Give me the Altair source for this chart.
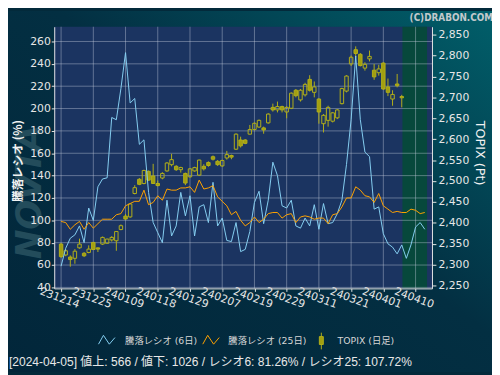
import altair as alt
import pandas as pd

# ---------------- data ----------------
DATE_LABELS = ["231214", "231225", "240109", "240118", "240129", "240207",
               "240219", "240229", "240311", "240321", "240401", "240410"]
TICK_IDX = [0, 7, 14, 21, 28, 35, 42, 49, 56, 63, 70, 77]

OPEN = [2349, 2323, 2318, 2315, 2340, 2327, 2329, 2353, 2340, 2349,
        2351, 2359, 2357, 2384, 2416, 2414, 2470, 2504, 2494, 2523,
        2512, 2494, 2507, 2524, 2539, 2535, 2527, 2518, 2510, 2524,
        2514, 2535, 2544, 2558, 2547, 2536, 2555, 2561, 2576, 2598,
        2598, 2612, 2623, 2629, 2627, 2639, 2676, 2670, 2678, 2665,
        2674, 2717, 2694, 2706, 2743, 2712, 2696, 2637, 2645, 2643,
        2651, 2685, 2715, 2780, 2814, 2803, 2770, 2792, 2765, 2759,
        2782, 2725, 2696, 2732, 2702]
HIGH = [2352, 2337, 2322, 2337, 2362, 2330, 2346, 2354, 2341, 2367,
        2362, 2368, 2380, 2396, 2421, 2446, 2490, 2507, 2527, 2525,
        2541, 2501, 2521, 2545, 2565, 2538, 2534, 2520, 2531, 2534,
        2551, 2540, 2547, 2561, 2550, 2551, 2572, 2563, 2614, 2606,
        2600, 2634, 2640, 2647, 2630, 2662, 2685, 2690, 2680, 2679,
        2712, 2720, 2720, 2735, 2753, 2738, 2698, 2660, 2680, 2665,
        2672, 2723, 2753, 2800, 2822, 2806, 2784, 2812, 2780, 2778,
        2784, 2745, 2717, 2756, 2706]
LOW = [2316, 2320, 2295, 2302, 2338, 2318, 2327, 2335, 2330, 2347,
       2350, 2355, 2333, 2382, 2407, 2412, 2468, 2490, 2492, 2500,
       2493, 2487, 2504, 2522, 2535, 2524, 2520, 2490, 2508, 2522,
       2512, 2525, 2534, 2549, 2536, 2534, 2551, 2552, 2574, 2580,
       2588, 2611, 2621, 2627, 2613, 2637, 2666, 2664, 2664, 2650,
       2672, 2700, 2690, 2702, 2714, 2700, 2637, 2616, 2630, 2640,
       2648, 2683, 2712, 2775, 2796, 2774, 2764, 2786, 2742, 2752,
       2718, 2703, 2680, 2724, 2676]
CLOSE = [2319, 2333, 2312, 2332, 2349, 2321, 2337, 2336, 2337, 2365,
         2361, 2365, 2379, 2393, 2409, 2445, 2484, 2492, 2525, 2502,
         2494, 2489, 2518, 2543, 2551, 2527, 2532, 2495, 2529, 2532,
         2550, 2529, 2537, 2552, 2539, 2549, 2563, 2557, 2612, 2584,
         2590, 2623, 2638, 2645, 2622, 2660, 2670, 2678, 2670, 2676,
         2710, 2704, 2717, 2731, 2717, 2725, 2665, 2657, 2676, 2663,
         2670, 2721, 2751, 2796, 2805, 2776, 2779, 2798, 2749, 2768,
         2720, 2712, 2707, 2728, 2699]

RATIO6 = [59, 75, 84, 87, 95, 80, 111, 100, 130, 137,
          138, 192, 190, 218, 250, 205, 209, 168, 172, 125,
          98, 89, 80, 118, 86, 95, 125, 104, 122, 86,
          112, 114, 98, 134, 95, 102, 82, 81, 98, 72,
          74, 90, 116, 126, 97, 118, 152, 140, 113, 111,
          118, 95, 93, 102, 95, 114, 92, 115, 97, 98,
          106, 118, 150, 190, 247, 190, 161, 157, 110, 112,
          88, 79, 76, 70, 78, 66, 78, 94, 98, 92]
RATIO25 = [99, 98, 92, 96, 99, 92, 98, 93, 97, 101,
           101, 101, 105, 106, 113, 115, 117, 117, 127, 114,
           116, 122, 118, 128, 127, 127, 129, 129, 130, 125,
           136, 128, 129, 131, 121, 117, 113, 105, 108, 100,
           95, 98, 103, 98, 101, 106, 107, 107, 102, 105,
           106, 98, 103, 104, 103, 101, 102, 102, 97, 105,
           106, 112, 120, 120, 130, 127, 122, 121, 116, 124,
           113, 110, 107, 108, 107, 107, 110, 109, 106, 107]

LEFT_TICKS = [40, 60, 80, 100, 120, 140, 160, 180, 200, 220, 240, 260]
RIGHT_TICKS = [2250, 2300, 2350, 2400, 2450, 2500, 2550, 2600, 2650,
               2700, 2750, 2800, 2850]
FUTURE_START = 74.15
X_DOMAIN = [-0.42, 79.5]
LEFT_DOMAIN = [39.1, 273.2]
RIGHT_DOMAIN = [2243, 2869]

LEGEND_LABELS = ["騰落レシオ (6日)", "騰落レシオ (25日)", "TOPIX (日足)"]
STATUS = "[2024-04-05]  値上: 566 / 値下: 1026 / レシオ6: 81.26% / レシオ25: 107.72%"
COPYRIGHT = "(C)DRABON.COM"
LEFT_TITLE = "騰落レシオ (%)"
RIGHT_TITLE = "TOPIX (Pt)"
WATERMARK = "NOVTA"

# ---------------- styling ----------------
W, H = 384, 266
FONT = "DejaVu Sans"
CJK = "Noto Sans CJK JP"
PLOT_BG = "#1b3461"
FUTURE_BG = "#07483c"
GRID = "#c8d0e0"
OLIVE_FILL = "#a29f10"
OLIVE_LINE = "#b3af18"
BLUE = "#86cff2"
ORANGE = "#ffa200"
LABEL = "#e6e6e6"

one = pd.DataFrame({"a": [0]})

candles = pd.DataFrame({"idx": list(range(len(OPEN))), "o": OPEN, "h": HIGH,
                        "l": LOW, "c": CLOSE})
candles["top"] = candles[["o", "c"]].max(axis=1)
candles["bot"] = candles[["o", "c"]].min(axis=1)
up = candles[candles["c"] >= candles["o"]]
dn = candles[candles["c"] < candles["o"]]

lines = pd.DataFrame({"idx": list(range(len(RATIO6))), "r6": RATIO6, "r25": RATIO25})

label_expr = "[" + ",".join("'%s'" % d for d in DATE_LABELS) + "][round(datum.value/7)]"

x_axis = alt.Axis(values=TICK_IDX, labelExpr=label_expr, grid=False, title=None,
                  labelAngle=20, labelAlign="center", labelBaseline="top",
                  labelFont=FONT, labelFontSize=11, labelColor=LABEL,
                  labelPadding=1, labelOverlap=False, labelBound=False,
                  labelFlush=False, tickSize=3, tickColor=LABEL,
                  domainColor=LABEL, zindex=1)
x_scale = alt.Scale(domain=X_DOMAIN, nice=False, zero=False)


def X(field):
    return alt.X(field, type="quantitative", scale=x_scale, axis=x_axis)


left_scale = alt.Scale(domain=LEFT_DOMAIN, nice=False, zero=False)
right_scale = alt.Scale(domain=RIGHT_DOMAIN, nice=False, zero=False)

left_axis = alt.Axis(orient="left", values=LEFT_TICKS, grid=False,
                     labelFont=FONT, labelFontSize=11, labelColor=LABEL,
                     labelPadding=1, tickSize=3, tickColor=LABEL,
                     domainColor=LABEL, labelOverlap=False,
                     title=LEFT_TITLE, titleFont=CJK, titleFontSize=12,
                     titleFontWeight="bold", titleColor="#f2f2f2",
                     titleAngle=270, titleX=-37, titleY=136,
                     titleAlign="center", titleBaseline="middle", zindex=1)
right_axis = alt.Axis(orient="right", values=RIGHT_TICKS, format=",.0f", grid=False,
                      labelFont=FONT, labelFontSize=11, labelColor=LABEL,
                      labelPadding=2, tickSize=4, tickColor=LABEL,
                      domainColor=LABEL, labelOverlap=False,
                      title=RIGHT_TITLE, titleFont=FONT, titleFontSize=13,
                      titleFontWeight="normal", titleColor="#f2f2f2",
                      titleAngle=90, titleX=48, titleY=128,
                      titleAlign="center", titleBaseline="middle", zindex=1)


def YL(field, axis=None):
    return alt.Y(field, type="quantitative", scale=left_scale, axis=axis)


def YR(field, axis=None):
    return alt.Y(field, type="quantitative", scale=right_scale, axis=axis)


# ---------------- layers ----------------
bg = alt.Chart(one).mark_rect(
    color=alt.Gradient(gradient="linear", x1=0, y1=1, x2=1, y2=0,
                       stops=[alt.GradientStop(color="#02263a", offset=0),
                              alt.GradientStop(color="#032f42", offset=0.55),
                              alt.GradientStop(color="#015f6a", offset=1)])
).encode(x=alt.value(-47), x2=alt.value(445), y=alt.value(-16), y2=alt.value(351))

watermark = alt.Chart(one).mark_text(
    text=WATERMARK, angle=270, font=FONT, fontSize=36, fontWeight="bold",
    fontStyle="italic", color="#234c5b", align="center", baseline="middle"
).encode(x=alt.value(-24), y=alt.value(168))

plot_bg = alt.Chart(one).mark_rect(color=PLOT_BG).encode(
    x=alt.value(0), x2=alt.value(W), y=alt.value(0), y2=alt.value(H))

future = alt.Chart(pd.DataFrame({"gs": [FUTURE_START], "ge": [X_DOMAIN[1]]})).mark_rect(
    color=FUTURE_BG).encode(x=X("gs"), x2="ge", y=alt.value(0), y2=alt.value(H))

vgrid = alt.Chart(pd.DataFrame({"t": TICK_IDX})).mark_rule(
    color=GRID, opacity=0.42, strokeWidth=1).encode(x=X("t"))
hgrid = alt.Chart(pd.DataFrame({"v": LEFT_TICKS})).mark_rule(
    color=GRID, opacity=0.42, strokeWidth=1).encode(y=YL("v"))

wick_hi = alt.Chart(candles).mark_rule(color=OLIVE_LINE, strokeWidth=1).encode(
    x=X("idx"), y=YR("h"), y2="top")
wick_lo = alt.Chart(candles).mark_rule(color=OLIVE_LINE, strokeWidth=1).encode(
    x=X("idx"), y=YR("bot"), y2="l")
body_dn = alt.Chart(dn).mark_bar(size=3.5, fill=OLIVE_FILL, stroke=OLIVE_LINE,
                                 strokeWidth=1).encode(
    x=X("idx"), y=YR("o", right_axis), y2="c")
body_up = alt.Chart(up).mark_bar(size=3.5, fillOpacity=0, stroke=OLIVE_LINE,
                                 strokeWidth=1).encode(
    x=X("idx"), y=YR("c"), y2="o")

line6 = alt.Chart(lines).mark_line(color=BLUE, strokeWidth=1).encode(
    x=X("idx"), y=YL("r6", left_axis))
line25 = alt.Chart(lines).mark_line(color=ORANGE, strokeWidth=1).encode(
    x=X("idx"), y=YL("r25"))

copyright_txt = alt.Chart(one).mark_text(
    text=COPYRIGHT, align="right", baseline="middle", font="DejaVu Sans Condensed",
    fontWeight="bold", fontSize=10, color="#c3c9cc"
).encode(x=alt.value(446), y=alt.value(-9))


def zigzag(x0, color):
    pts = [(0, 9), (5, 0), (11, 9), (16.7, 2.3)]
    y0 = 313.7
    segs = []
    for (ax, ay), (bx, by) in zip(pts[:-1], pts[1:]):
        segs.append(alt.Chart(one).mark_rule(color=color, strokeWidth=1).encode(
            x=alt.value(x0 + ax), x2=alt.value(x0 + bx),
            y=alt.value(y0 + ay), y2=alt.value(y0 + by)))
    return segs


legend_layers = zigzag(45, BLUE) + zigzag(151, ORANGE)
legend_layers.append(alt.Chart(one).mark_rule(color=OLIVE_LINE).encode(
    x=alt.value(271.5), y=alt.value(311), y2=alt.value(328)))
legend_layers.append(alt.Chart(one).mark_rect(fill=OLIVE_FILL, stroke=OLIVE_LINE,
                                               strokeWidth=1).encode(
    x=alt.value(269.5), x2=alt.value(273.5), y=alt.value(315), y2=alt.value(323)))
for xpos, txt in zip([72, 177, 288], LEGEND_LABELS):
    legend_layers.append(alt.Chart(one).mark_text(
        text=txt, align="left", baseline="middle", font=FONT + ", " + CJK,
        fontSize=9.5, color="#d6d6d6").encode(x=alt.value(xpos), y=alt.value(319.5)))

status_txt = alt.Chart(one).mark_text(
    text=STATUS, align="left", baseline="middle", font="Liberation Sans, " + CJK,
    fontSize=12.2, color="#e8e8e8").encode(x=alt.value(-46), y=alt.value(341))

chart = alt.layer(
    bg, watermark, plot_bg, future, vgrid, hgrid,
    wick_hi, wick_lo, body_dn, body_up, line6, line25,
    copyright_txt, *legend_layers, status_txt
).resolve_scale(y="independent").properties(
    width=W, height=H,
    autosize=alt.AutoSizeParams(type="none"),
    padding={"left": 47, "top": 16, "right": 61, "bottom": 85},
).configure(background="#032a3b").configure_view(stroke=None)

chart.save("out.html", embed_options={"renderer": "svg", "actions": False})
